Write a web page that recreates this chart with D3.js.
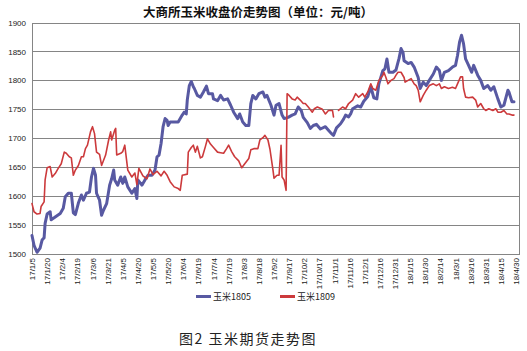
<!DOCTYPE html>
<html>
<head>
<meta charset="utf-8">
<script src="https://cdn.jsdelivr.net/npm/d3@7"></script>
<style>
  body { margin: 0; background: #fff; }
  svg { display: block; }
</style>
</head>
<body>
<div id="chart"></div>
<script>
// days counted from 17/1/5, closing price (yuan/ton)
const startDate = new Date(2017, 0, 5);

const corn1805 = [
  [0,1532],[2,1515],[5,1503],[8,1510],[10,1524],[12,1528],[13,1553],[15,1569],[18,1573],[19,1559],
  [23,1564],[28,1570],[31,1579],[33,1599],[36,1605],[39,1605],[41,1571],[43,1568],[46,1588],[49,1602],
  [51,1593],[54,1605],[57,1607],[59,1633],[61,1648],[63,1636],[64,1605],[67,1593],[69,1567],[71,1576],
  [74,1587],[77,1619],[79,1630],[81,1645],[82,1628],[85,1619],[88,1633],[90,1622],[92,1633],[95,1616],
  [99,1605],[102,1613],[104,1596],[105,1628],[109,1619],[112,1628],[115,1636],[119,1636],[122,1645],[124,1668],
  [126,1671],[128,1691],[130,1720],[132,1734],[134,1731],[135,1722],[137,1728],[142,1728],[145,1728],[149,1740],
  [151,1745],[153,1742],[154,1766],[156,1791],[158,1798],[160,1789],[161,1786],[164,1774],[167,1771],[170,1780],
  [173,1790],[175,1777],[179,1777],[180,1768],[184,1765],[187,1774],[190,1766],[194,1768],[197,1757],[200,1745],
  [204,1734],[206,1742],[209,1728],[212,1722],[215,1722],[217,1760],[219,1774],[222,1768],[225,1777],[229,1780],
  [231,1771],[233,1774],[237,1757],[240,1740],[242,1757],[245,1760],[248,1740],[250,1734],[254,1736],[258,1740],
  [261,1742],[264,1754],[267,1748],[269,1736],[273,1727],[276,1717],[279,1722],[282,1724],[286,1716],[291,1720],
  [294,1714],[297,1708],[299,1705],[302,1718],[306,1725],[309,1733],[311,1740],[314,1737],[316,1742],[318,1751],
  [323,1756],[326,1754],[329,1764],[333,1772],[336,1789],[339,1770],[342,1768],[344,1794],[348,1817],[350,1820],
  [352,1837],[354,1814],[358,1814],[361,1818],[364,1838],[366,1855],[368,1848],[369,1834],[373,1829],[376,1831],
  [379,1823],[383,1805],[385,1786],[388,1797],[391,1791],[394,1800],[398,1811],[401,1823],[404,1817],[406,1800],
  [409,1814],[413,1817],[417,1823],[420,1826],[422,1843],[424,1866],[426,1878],[428,1863],[430,1837],[433,1826],
  [436,1814],[438,1826],[442,1809],[445,1800],[448,1786],[452,1791],[455,1783],[458,1789],[462,1768],[465,1754],
  [468,1757],[472,1783],[473,1780],[476,1763],[478,1763]
];

const corn1809 = [
  [0,1587],[2,1573],[5,1569],[8,1570],[9,1582],[12,1590],[13,1628],[15,1649],[18,1651],[20,1633],
  [23,1639],[26,1648],[29,1656],[32,1676],[34,1674],[37,1668],[39,1666],[41,1636],[43,1645],[46,1653],
  [49,1668],[51,1668],[53,1682],[55,1688],[58,1711],[60,1720],[62,1708],[64,1676],[67,1672],[69,1653],
  [71,1662],[73,1671],[76,1697],[78,1711],[79,1697],[82,1714],[83,1717],[84,1671],[88,1674],[90,1677],
  [92,1688],[95,1645],[99,1633],[102,1640],[104,1620],[106,1648],[110,1635],[114,1630],[117,1647],[120,1637],
  [124,1643],[128,1635],[131,1643],[134,1636],[137,1625],[141,1616],[145,1613],[147,1610],[149,1636],[154,1638],
  [155,1676],[158,1684],[160,1688],[162,1676],[164,1686],[167,1666],[169,1668],[172,1686],[174,1699],[177,1690],
  [180,1684],[184,1676],[187,1675],[190,1674],[193,1682],[195,1688],[198,1677],[201,1668],[205,1661],[208,1649],
  [211,1656],[215,1665],[217,1680],[220,1682],[224,1682],[226,1697],[229,1701],[231,1705],[234,1697],[236,1681],
  [239,1645],[240,1631],[243,1636],[245,1636],[247,1688],[248,1633],[250,1628],[252,1610],[253,1777],[255,1774],
  [258,1768],[261,1766],[263,1771],[266,1766],[269,1760],[271,1760],[274,1754],[278,1745],[280,1751],[283,1754],
  [288,1750],[291,1742],[294,1748],[298,1748],[299,1737],[301,null],[304,1748],[308,1754],[311,1751],[314,1760],
  [318,1766],[321,1777],[324,1771],[328,1777],[330,1771],[333,1780],[336,1794],[338,1786],[341,1783],[344,1800],
  [348,1809],[349,1814],[351,1805],[353,1794],[356,1800],[359,1803],[361,1809],[363,1814],[366,1814],[369,1805],
  [370,1797],[373,1800],[376,1803],[379,1794],[381,1791],[383,1783],[385,1763],[388,1774],[391,1783],[394,1791],
  [398,1794],[401,1791],[404,1794],[406,1786],[409,1789],[413,1786],[417,1788],[420,1786],[422,1794],[425,1806],
  [427,1806],[428,1786],[430,1771],[433,1770],[437,1771],[440,1766],[442,1754],[445,1760],[448,1751],[450,1748],
  [453,1751],[457,1748],[460,1751],[462,1745],[465,1745],[468,1748],[471,1742],[473,1742],[476,1740],[478,1740]
];

const yTicks = [1500, 1550, 1600, 1650, 1700, 1750, 1800, 1850, 1900];
const xTickLabels = ["17/1/5","17/1/20","17/2/4","17/2/19","17/3/6","17/3/21","17/4/5","17/4/20","17/5/5",
  "17/5/20","17/6/4","17/6/19","17/7/4","17/7/19","17/8/3","17/8/18","17/9/2","17/9/17","17/10/2","17/10/17",
  "17/11/1","17/11/16","17/12/1","17/12/16","17/12/31","18/1/15","18/1/30","18/2/14","18/3/1","18/3/16",
  "18/3/31","18/4/15","18/4/30"];
const seriesNames = ["玉米1805", "玉米1809"];
const title = "大商所玉米收盘价走势图（单位：元/吨）";
const caption = "图2  玉米期货走势图";

const W = 527, H = 351;
const plot = { left: 32, right: 519, top: 22.5, bottom: 254 };
const colors = ["#5859a2", "#cc3a3c"];
const lineWidths = [3, 1.6];

const parseTick = d3.timeParse("%y/%m/%d");
const tickDates = xTickLabels.map(parseTick);

const x = d3.scaleTime()
    .domain([tickDates[0], tickDates[tickDates.length - 1]])
    .range([plot.left, 516]);

const y = d3.scaleLinear()
    .domain([1500, 1900])
    .range([plot.bottom, plot.top]);

const svg = d3.select("#chart").append("svg")
    .attr("width", W)
    .attr("height", H);

// gridlines
svg.append("g")
    .selectAll("line")
    .data(yTicks)
    .enter().append("line")
    .attr("x1", plot.left)
    .attr("x2", plot.right)
    .attr("y1", d => Math.round(y(d)) + 0.5)
    .attr("y2", d => Math.round(y(d)) + 0.5)
    .attr("stroke", "#858585")
    .attr("stroke-width", 1);

// plot box
svg.append("rect")
    .attr("x", plot.left + 0.5)
    .attr("y", Math.round(plot.top) + 0.5)
    .attr("width", plot.right - plot.left)
    .attr("height", Math.round(plot.bottom) - Math.round(plot.top))
    .attr("fill", "none")
    .attr("stroke", "#858585");

// Y axis
const yAxis = svg.append("g")
    .attr("transform", `translate(${plot.left},0)`)
    .call(d3.axisLeft(y).tickValues(yTicks).tickSize(0).tickPadding(6).tickFormat(d3.format("d")));
yAxis.select(".domain").remove();
yAxis.selectAll("text")
    .attr("font-family", "'Liberation Sans', Arial, sans-serif")
    .attr("font-size", 8)
    .attr("fill", "#222");

// X axis
const xAxis = svg.append("g")
    .attr("transform", `translate(0,${plot.bottom})`)
    .call(d3.axisBottom(x).tickValues(tickDates).tickSize(0).tickFormat((d, i) => xTickLabels[i]));
xAxis.select(".domain").remove();
xAxis.selectAll("text")
    .attr("transform", "rotate(-90)")
    .attr("x", -4)
    .attr("y", 0)
    .attr("dy", "0.32em")
    .style("text-anchor", "end")
    .attr("font-family", "'Liberation Sans', Arial, sans-serif")
    .attr("font-size", 8)
    .attr("fill", "#222");

// lines
const line = d3.line()
    .defined(d => d[1] != null)
    .x(d => x(d3.timeDay.offset(startDate, d[0])))
    .y(d => y(d[1]));

[corn1805, corn1809].forEach((data, i) => {
    svg.append("path")
        .datum(data)
        .attr("fill", "none")
        .attr("stroke", colors[i])
        .attr("stroke-width", lineWidths[i])
        .attr("stroke-linejoin", "round")
        .attr("stroke-linecap", "round")
        .attr("d", line);
});

// title
svg.append("text")
    .attr("x", 258)
    .attr("y", 17)
    .attr("text-anchor", "middle")
    .attr("font-family", "'Noto Sans CJK SC', sans-serif")
    .attr("font-weight", "bold")
    .attr("font-size", 12.5)
    .attr("fill", "#111")
    .text(title);

// legend
const legendX = [196, 280];
const legend = svg.append("g");
seriesNames.forEach((name, i) => {
    legend.append("line")
        .attr("x1", legendX[i])
        .attr("x2", legendX[i] + 15)
        .attr("y1", 296.5)
        .attr("y2", 296.5)
        .attr("stroke", colors[i])
        .attr("stroke-width", 3);
    legend.append("text")
        .attr("x", legendX[i] + 17)
        .attr("y", 300)
        .attr("font-family", "'Noto Sans CJK SC', sans-serif")
        .attr("font-size", 9)
        .attr("fill", "#222")
        .text(name);
});

// caption
svg.append("text")
    .attr("x", 248)
    .attr("y", 344)
    .attr("text-anchor", "middle")
    .attr("font-family", "'Noto Sans CJK SC', sans-serif")
    .attr("font-size", 14)
    .attr("letter-spacing", 1.5)
    .attr("fill", "#222")
    .text(caption);
</script>
</body>
</html>
